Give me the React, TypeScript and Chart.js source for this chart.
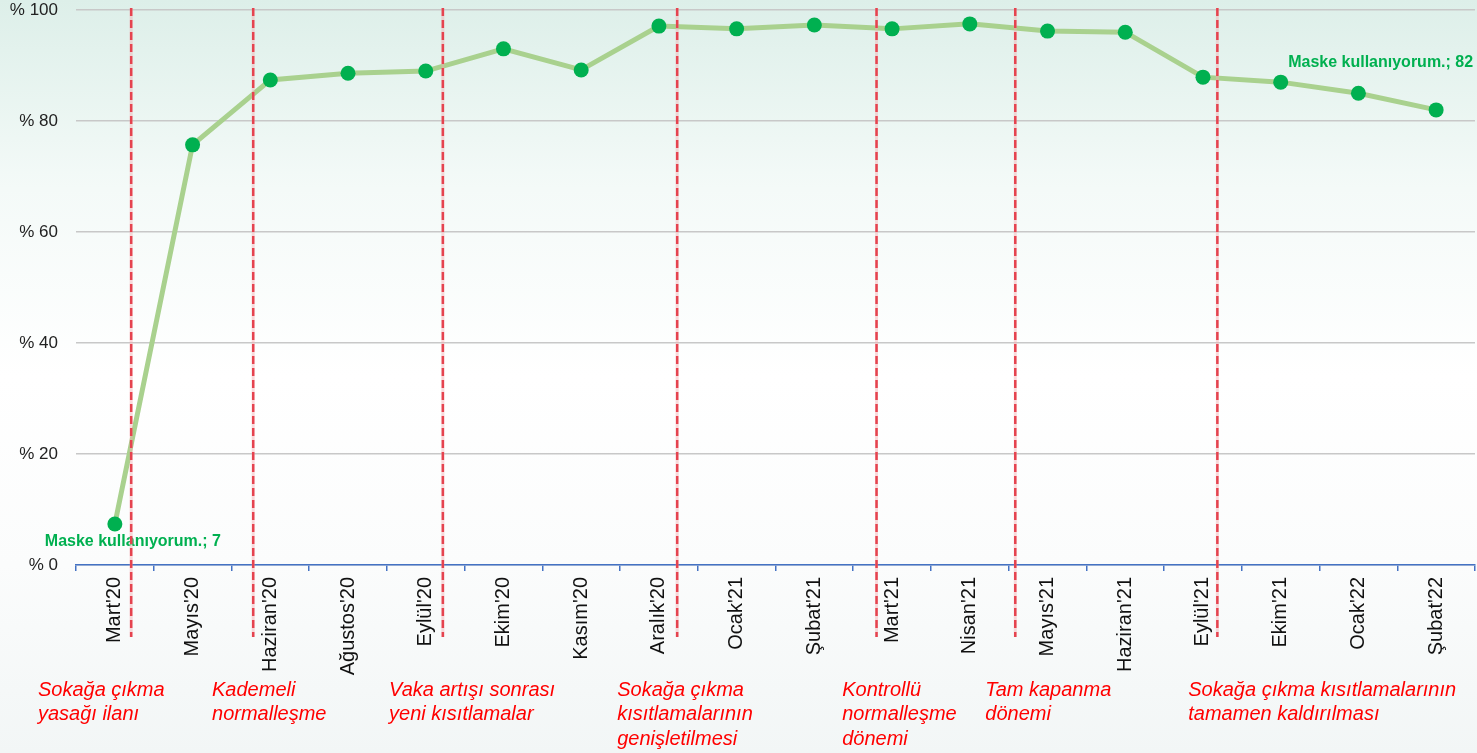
import React, { useEffect, useRef } from "react";
import { Chart, registerables } from "chart.js";

Chart.register(...registerables);

const categories = [
  "Mart'20", "Mayıs'20", "Haziran'20", "Ağustos'20", "Eylül'20", "Ekim'20", "Kasım'20", "Aralık'20",
  "Ocak'21", "Şubat'21", "Mart'21", "Nisan'21", "Mayıs'21", "Haziran'21", "Eylül'21", "Ekim'21",
  "Ocak'22", "Şubat'22",
];
const maskValues = [7.4, 75.7, 87.4, 88.6, 89.0, 93.0, 89.2, 97.1, 96.6, 97.3, 96.6, 97.5, 96.2, 96.0, 87.9, 87.0, 85.0, 82.0];
const seriesName = "Maske kullanıyorum.";
const yTicks = [0, 20, 40, 60, 80, 100];

// events: position on the category axis (index units) and annotation texts
const eventAt = [0.21, 1.78, 4.22, 7.235, 9.8, 11.585, 14.185];
const eventLabelAt = [-0.99, 1.25, 3.528, 6.463, 9.358, 11.199, 13.811];
const eventTexts = [
  ["Sokağa çıkma", "yasağı ilanı"],
  ["Kademeli", "normalleşme"],
  ["Vaka artışı sonrası", "yeni kısıtlamalar"],
  ["Sokağa çıkma", "kısıtlamalarının", "genişletilmesi"],
  ["Kontrollü", "normalleşme", "dönemi"],
  ["Tam kapanma", "dönemi"],
  ["Sokağa çıkma kısıtlamalarının", "tamamen kaldırılması"],
];
// indices of points with data labels
const labeledPoints = [0, 17];

const annotationPlugin = {
  id: "annotations",
  afterDatasetsDraw(chart: any) {
    const ctx = chart.ctx;
    const xs = chart.scales.x;
    const area = chart.chartArea;
    const meta = chart.getDatasetMeta(0);
    ctx.save();
    // data labels
    ctx.font = "bold 16px 'Liberation Sans', Arial, sans-serif";
    ctx.fillStyle = "#00b050";
    ctx.textBaseline = "middle";
    labeledPoints.forEach((idx, k) => {
      const pt = meta.data[idx];
      const txt = `${seriesName}; ${Math.round(maskValues[idx])}`;
      if (k === 0) {
        ctx.textAlign = "center";
        ctx.fillText(txt, pt.x + 18, pt.y + 18);
      } else {
        ctx.textAlign = "right";
        ctx.fillText(txt, pt.x + 37, pt.y - 47);
      }
    });
    // dashed event lines
    eventAt.forEach((v) => {
      const x = xs.getPixelForValue(v);
      ctx.setLineDash([]);
      ctx.strokeStyle = "rgba(245,170,175,0.45)";
      ctx.lineWidth = 3;
      ctx.beginPath();
      ctx.moveTo(x, area.top - 2);
      ctx.lineTo(x, 637);
      ctx.stroke();
      ctx.setLineDash([8, 4]);
      ctx.strokeStyle = "#e5434f";
      ctx.lineWidth = 2.5;
      ctx.beginPath();
      ctx.moveTo(x, area.top - 2);
      ctx.lineTo(x, 637);
      ctx.stroke();
    });
    ctx.setLineDash([]);
    // annotation texts
    ctx.font = "italic 20px 'Liberation Sans', Arial, sans-serif";
    ctx.fillStyle = "#ff0000";
    ctx.textAlign = "left";
    ctx.textBaseline = "middle";
    eventTexts.forEach((lines, i) => {
      const x = xs.getPixelForValue(eventLabelAt[i]);
      lines.forEach((ln, j) => {
        ctx.fillText(ln, x, 690 + j * 24.5);
      });
    });
    ctx.restore();
  },
};

export default function App() {
  const ref = useRef<HTMLCanvasElement>(null);
  useEffect(() => {
    if (!ref.current) return;
    const chart = new Chart(ref.current, {
      type: "line",
      data: {
        labels: categories,
        datasets: [
          {
            label: seriesName,
            data: maskValues,
            borderColor: "#a9d18e",
            borderWidth: 5,
            pointRadius: 7.5,
            pointHoverRadius: 7.5,
            pointBackgroundColor: "#00b050",
            pointBorderWidth: 0,
            tension: 0,
          },
        ],
      },
      options: {
        responsive: false,
        animation: false,
        devicePixelRatio: 1,
        layout: { autoPadding: false, padding: { top: 10, right: 2, left: 0, bottom: 0 } },
        plugins: { legend: { display: false }, tooltip: { enabled: false } },
        scales: {
          x: {
            type: "category",
            offset: true,
            grid: {
              offset: true,
              drawOnChartArea: false,
              drawTicks: true,
              tickLength: 6,
              color: "#4472c4",
              lineWidth: 1.5,
            },
            border: { color: "#4472c4", width: 1.5 },
            ticks: {
              minRotation: 90,
              maxRotation: 90,
              autoSkip: false,
              padding: 6,
              color: "#111",
              font: { family: "'Liberation Sans', Arial, sans-serif", size: 20 },
            },
            afterFit: (s: any) => {
              s.height = 188;
              s.paddingLeft = 0;
              s.paddingRight = 0;
            },
          },
          y: {
            min: 0,
            max: 100,
            afterBuildTicks: (s: any) => {
              s.ticks = yTicks.map((v) => ({ value: v }));
            },
            grid: { color: "#c8c8c8", lineWidth: 1.5, drawTicks: false },
            border: { display: false },
            ticks: {
              padding: 18,
              color: "#222",
              font: { family: "'Liberation Sans', Arial, sans-serif", size: 17 },
              callback: (v: any) => `% ${v}`,
            },
            afterFit: (s: any) => {
              s.width = 76;
              s.paddingTop = 0;
              s.paddingBottom = 0;
            },
          },
        },
      },
      plugins: [annotationPlugin],
    });
    return () => chart.destroy();
  }, []);
  return (
    <div
      style={{
        position: "fixed",
        left: 0,
        top: 0,
        width: 1477,
        height: 753,
        background: "linear-gradient(to bottom, #ddefe9 0%, #f4faf8 25%, #ffffff 50%, #fbfcfc 75%, #f2f6f6 100%)",
      }}
    >
      <canvas ref={ref} width={1477} height={753} style={{ display: "block" }} />
    </div>
  );
}
